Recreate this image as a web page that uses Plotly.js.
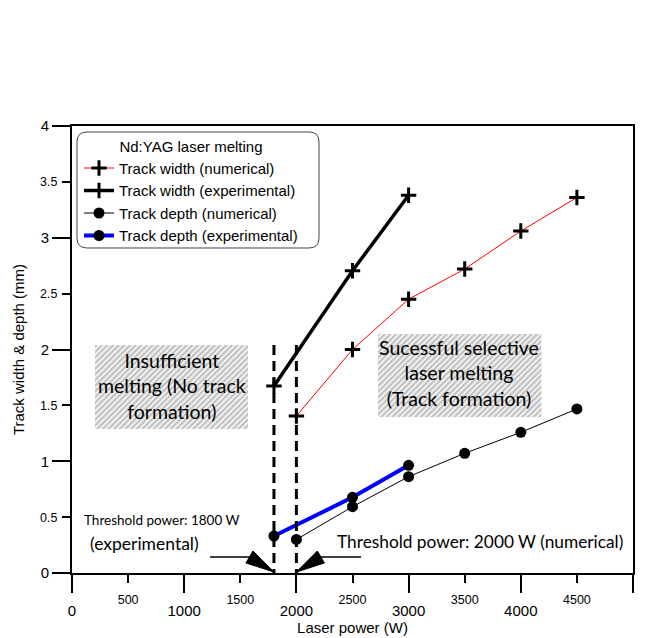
<!DOCTYPE html>
<html>
<head>
<meta charset="utf-8">
<script src="https://cdn.plot.ly/plotly-3.0.1.min.js"></script>
<style>html,body{margin:0;padding:0;background:#fff;}#chart{width:648px;height:638px;}</style>
</head>
<body>
<div id="chart"></div>
<script>
// ---- data ----
const widthNumX = [2000, 2500, 3000, 3500, 4000, 4500];
const widthNum = [1.405, 2.00, 2.45, 2.72, 3.06, 3.36];
const widthExpX = [1800, 2500, 3000];
const widthExp = [1.673, 2.705, 3.38];
const depthNumX = [2000, 2500, 3000, 3500, 4000, 4500];
const depthNum = [0.30, 0.593, 0.862, 1.071, 1.259, 1.468];
const depthExpX = [1800, 2500, 3000];
const depthExp = [0.331, 0.677, 0.964];
const thresholdX = [1800, 2000];
const thresholdTop = 2.04;
const xMajorTicks = [0, 1000, 2000, 3000, 4000, 5000];
const xMinorTicks = [500, 1500, 2500, 3500, 4500];
const yMajorTicks = [0, 1, 2, 3, 4];
const yMinorTicks = [0.5, 1.5, 2.5, 3.5];
const seriesNames = ['Track width (numerical)', 'Track width (experimental)', 'Track depth (numerical)', 'Track depth (experimental)'];

const AX = 'Liberation Sans, Arial, sans-serif';
const CAL = 'Lato, sans-serif';

const crossMarker = {symbol: 'cross-thin', size: 11, color: '#000', line: {color: '#000', width: 3}};
const dotMarker = {symbol: 'circle', size: 11, color: '#000'};

const tx = [], ty = [];
thresholdX.forEach(v => { tx.push(v, v, null); ty.push(thresholdTop, 0, null); });

const traces = [
  {x: tx, y: ty, xaxis: 'x2', yaxis: 'y2', mode: 'lines', showlegend: false, hoverinfo: 'skip',
   line: {color: '#000', width: 3, dash: '10px,6px'}},
  {x: widthNumX, y: widthNum, name: seriesNames[0], mode: 'lines+markers', line: {color: '#ff0000', width: 1}, marker: crossMarker},
  {x: widthExpX, y: widthExp, name: seriesNames[1], mode: 'lines+markers', line: {color: '#000', width: 3.5}, marker: crossMarker},
  {x: depthNumX, y: depthNum, name: seriesNames[2], mode: 'lines+markers', line: {color: '#000', width: 1}, marker: dotMarker},
  {x: depthExpX, y: depthExp, name: seriesNames[3], mode: 'lines+markers', line: {color: '#0000ff', width: 4}, marker: dotMarker}
];

function hatch(w, h) {
  const svg = "<svg xmlns='http://www.w3.org/2000/svg' width='" + w + "' height='" + h + "' viewBox='0 0 " + w + " " + h + "' preserveAspectRatio='none'>" +
    "<defs><pattern id='h' width='4' height='4' patternUnits='userSpaceOnUse' patternTransform='rotate(45)'>" +
    "<rect width='4' height='4' fill='#f0f0f0'/><rect width='1.8' height='4' fill='#bcbcbc'/></pattern></defs>" +
    "<rect width='100%' height='100%' fill='url(#h)'/></svg>";
  return 'data:image/svg+xml;charset=utf-8,' + encodeURIComponent(svg);
}

// legend rounded frame (paper coords)
const lx0 = 0.0089, lx1 = 0.4403, ly0 = 0.9866, ly1 = 0.7271, rx = 0.0178, ry = 0.0224;
const legendPath = `M ${lx0+rx},${ly0} L ${lx1-rx},${ly0} Q ${lx1},${ly0} ${lx1},${ly0-ry} L ${lx1},${ly1+ry} Q ${lx1},${ly1} ${lx1-rx},${ly1} L ${lx0+rx},${ly1} Q ${lx0},${ly1} ${lx0},${ly1+ry} L ${lx0},${ly0-ry} Q ${lx0},${ly0} ${lx0+rx},${ly0} Z`;

const axBase = {showgrid: false, zeroline: false, ticks: 'outside', tickwidth: 2, tickcolor: '#000', color: '#000'};

// arrowheads as pixel-sized triangles anchored at the threshold positions
function head(xv, dir) {
  return {type: 'path', xref: 'x', yref: 'y', xsizemode: 'pixel', ysizemode: 'pixel', xanchor: xv, yanchor: 0,
    path: `M 0,1 L ${-21*dir},22 L ${-28*dir},10 Z`, fillcolor: '#000', line: {color: '#000', width: 1}};
}

const layout = {
  width: 648, height: 638,
  margin: {l: 72, r: 15, t: 126, b: 65},
  paper_bgcolor: '#fff', plot_bgcolor: 'rgba(0,0,0,0)',
  font: {family: AX, color: '#000', size: 15},
  showlegend: true,
  legend: {x: 0.0125, y: 0.986, xanchor: 'left', yanchor: 'top', bgcolor: 'rgba(0,0,0,0)', borderwidth: 0,
    font: {family: AX, size: 15, color: '#000'},
    title: {text: 'Nd:YAG laser melting', side: 'top center', font: {family: AX, size: 15, color: '#000'}}},
  xaxis: Object.assign({}, axBase, {range: [0, 5000], tickmode: 'array', tickvals: xMajorTicks, ticklen: 18,
    tickfont: {size: 15}, ticklabelstandoff: 5, showline: true, linewidth: 2, linecolor: '#000', mirror: true,
    title: {text: 'Laser power (W)', font: {size: 15}, standoff: 4}}),
  xaxis2: Object.assign({}, axBase, {range: [0, 5000], overlaying: 'x', anchor: 'y2', side: 'bottom', tickmode: 'array',
    tickvals: xMinorTicks, ticklen: 9, tickfont: {size: 12.5}, ticklabelstandoff: 6, showline: false}),
  yaxis: Object.assign({}, axBase, {range: [0, 4], tickmode: 'array', tickvals: yMajorTicks, ticklen: 18,
    tickfont: {size: 15}, showline: true, linewidth: 2, linecolor: '#000', mirror: true,
    title: {text: 'Track width & depth (mm)', font: {size: 15}, standoff: 12}}),
  yaxis2: Object.assign({}, axBase, {range: [0, 4], overlaying: 'y', anchor: 'x2', side: 'left', tickmode: 'array',
    tickvals: yMinorTicks, ticklen: 9, tickfont: {size: 12.5}, ticklabelstandoff: 2, showline: false}),
  images: [
    {source: hatch(153, 84), xref: 'x', yref: 'y', x: 205, y: 2.04, sizex: 1364, sizey: 0.751, xanchor: 'left', yanchor: 'top', sizing: 'stretch', layer: 'above'},
    {source: hatch(164, 83), xref: 'x', yref: 'y', x: 2727, y: 2.139, sizex: 1459, sizey: 0.743, xanchor: 'left', yanchor: 'top', sizing: 'stretch', layer: 'above'}
  ],
  shapes: [
    {type: 'path', xref: 'paper', yref: 'paper', path: legendPath, line: {color: '#444', width: 1}, fillcolor: 'rgba(0,0,0,0)'},
    {type: 'line', xref: 'x', yref: 'y', x0: 1230, x1: 1595, y0: 0.143, y1: 0.143, line: {color: '#000', width: 1.5}},
    {type: 'line', xref: 'x', yref: 'y', x0: 2205, x1: 2576, y0: 0.143, y1: 0.143, line: {color: '#000', width: 1.5}},
    head(thresholdX[0], 1),
    head(thresholdX[1], -1)
  ],
  annotations: [
    {xref: 'x', yref: 'y', x: 887, y: 1.67, text: 'Insufficient<br>melting (No track<br>formation)', showarrow: false,
     font: {family: CAL, size: 19.5, color: '#000'}},
    {xref: 'x', yref: 'y', x: 3450, y: 1.79, text: 'Sucessful selective<br>laser melting<br>(Track formation)', showarrow: false,
     font: {family: CAL, size: 19.5, color: '#000'}},
    {xref: 'x', yref: 'y', x: 795, y: 0.474, text: 'Threshold power: 1800 W', showarrow: false,
     font: {family: CAL, size: 13.5, color: '#000'}},
    {xref: 'x', yref: 'y', x: 650, y: 0.26, text: '(experimental)', showarrow: false,
     font: {family: CAL, size: 17.5, color: '#000'}},
    {xref: 'x', yref: 'y', x: 3636, y: 0.28, text: 'Threshold power: 2000 W (numerical)', showarrow: false,
     font: {family: CAL, size: 17.3, color: '#000'}}
  ]
};

Plotly.newPlot('chart', traces, layout, {displayModeBar: false, staticPlot: true});
</script>
</body>
</html>
